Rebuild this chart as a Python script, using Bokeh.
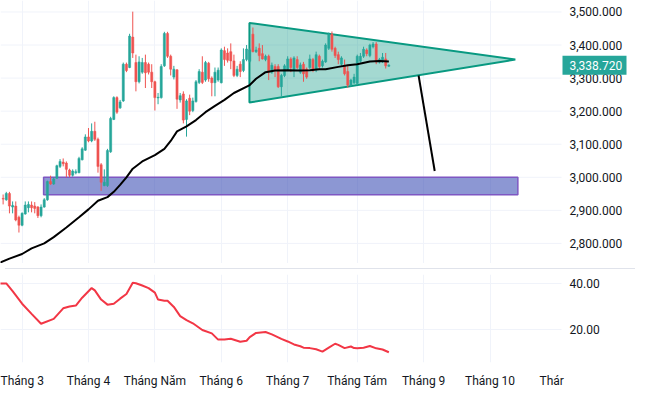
from bokeh.plotting import figure
from bokeh.models import (ColumnDataSource, FixedTicker, Grid, Range1d, Div)
from bokeh.core.properties import value
from bokeh.layouts import column
from bokeh.embed import file_html
from bokeh.resources import INLINE

# ---------------- data ----------------
opens = [2936, 2932, 2951, 2910, 2913, 2879, 2855, 2889, 2908, 2916,
         2913, 2910, 2884, 2910, 2932, 2987, 2980, 2997, 3033, 3046,
         3043, 3022, 3006, 3014, 3014, 3053, 3082, 3122, 3110, 3139,
         3115, 3038, 2975, 2975, 3077, 3175, 3241, 3210, 3231, 3342,
         3332, 3424, 3347, 3289, 3318, 3347, 3342, 3318, 3289, 3240,
         3241, 3337, 3435, 3366, 3303, 3325, 3234, 3252, 3175, 3239,
         3202, 3229, 3287, 3318, 3294, 3345, 3300, 3286, 3294, 3286,
         3383, 3376, 3380, 3352, 3308, 3342, 3323, 3356, 3351, 3433,
         3380, 3390, 3374, 3356, 3366, 3318, 3335, 3335, 3274, 3308,
         3327, 3358, 3327, 3356, 3318, 3342, 3327, 3332, 3356, 3326,
         3366, 3337, 3349, 3390, 3433, 3390, 3371, 3342, 3337, 3320,
         3279, 3286, 3284, 3351, 3366, 3385, 3368, 3395, 3403, 3349,
         3351, 3358, 3336]
highs = [2948, 2956, 2956, 2927, 2927, 2884, 2894, 2927, 2927, 2927,
         2925, 2913, 2918, 2937, 2990, 3005, 3000, 3038, 3055, 3057,
         3048, 3026, 3024, 3024, 3062, 3091, 3130, 3149, 3163, 3168,
         3120, 3043, 3024, 3086, 3183, 3245, 3245, 3234, 3347, 3347,
         3434, 3501, 3371, 3366, 3361, 3371, 3347, 3342, 3292, 3255,
         3342, 3440, 3440, 3371, 3337, 3327, 3255, 3260, 3236, 3250,
         3241, 3294, 3327, 3366, 3352, 3349, 3305, 3332, 3332, 3390,
         3395, 3390, 3405, 3371, 3337, 3351, 3390, 3400, 3390, 3453,
         3395, 3405, 3400, 3371, 3371, 3347, 3342, 3342, 3313, 3342,
         3366, 3363, 3366, 3366, 3347, 3349, 3332, 3371, 3361, 3380,
         3371, 3356, 3405, 3438, 3441, 3395, 3380, 3366, 3356, 3337,
         3298, 3313, 3371, 3376, 3395, 3390, 3404, 3409, 3409, 3361,
         3376, 3376, 3342]
lows = [2918, 2929, 2891, 2891, 2867, 2833, 2852, 2887, 2894, 2894,
        2891, 2877, 2879, 2908, 2929, 2977, 2977, 2995, 3028, 3033,
        3000, 3000, 3002, 3009, 3012, 3051, 3080, 3106, 3106, 3110,
        3014, 2959, 2973, 2971, 3074, 3173, 3192, 3207, 3228, 3318,
        3330, 3361, 3260, 3284, 3313, 3270, 3311, 3270, 3202, 3221,
        3238, 3334, 3361, 3308, 3296, 3207, 3226, 3163, 3123, 3188,
        3197, 3226, 3282, 3282, 3289, 3289, 3245, 3245, 3289, 3284,
        3337, 3347, 3327, 3303, 3303, 3303, 3318, 3351, 3347, 3378,
        3376, 3351, 3356, 3351, 3294, 3313, 3303, 3270, 3245, 3303,
        3322, 3318, 3303, 3327, 3313, 3289, 3298, 3327, 3318, 3318,
        3329, 3332, 3346, 3385, 3380, 3361, 3342, 3337, 3308, 3271,
        3274, 3282, 3279, 3347, 3361, 3366, 3363, 3390, 3342, 3344,
        3346, 3329, 3334]
closes = [2934, 2951, 2913, 2915, 2871, 2855, 2891, 2916, 2918, 2908,
          2906, 2884, 2910, 2932, 2987, 2980, 2995, 3035, 3048, 3041,
          3024, 3006, 3019, 3017, 3057, 3086, 3122, 3110, 3139, 3115,
          3033, 2985, 2985, 3081, 3178, 3241, 3197, 3228, 3342, 3323,
          3427, 3376, 3289, 3349, 3347, 3316, 3318, 3289, 3241, 3242,
          3335, 3435, 3366, 3327, 3327, 3236, 3247, 3173, 3231, 3200,
          3231, 3289, 3320, 3287, 3347, 3298, 3286, 3318, 3324, 3385,
          3356, 3354, 3352, 3308, 3327, 3320, 3356, 3388, 3385, 3380,
          3385, 3368, 3358, 3366, 3318, 3339, 3325, 3274, 3308, 3337,
          3358, 3332, 3361, 3332, 3340, 3313, 3303, 3358, 3323, 3371,
          3335, 3351, 3400, 3433, 3387, 3368, 3356, 3361, 3313, 3279,
          3294, 3303, 3366, 3366, 3387, 3374, 3400, 3403, 3349, 3356,
          3363, 3337, 3338.72]

# moving average (black line), bar index -> value
ma_x = [-1, 2, 6, 9, 13, 16, 20, 24, 27, 30, 33, 35, 37, 39, 41, 44, 48, 51, 53, 55,
        58, 61, 64, 67, 70, 73, 78, 80, 83, 86, 90, 94, 97, 100, 102, 106, 109, 112,
        116, 119, 122]
ma_v = [2742, 2754, 2768, 2785, 2800, 2819, 2848, 2879, 2903, 2929, 2940, 2956, 2977,
        3000, 3026, 3048, 3067, 3086, 3110, 3139, 3154, 3173, 3197, 3216, 3234, 3255,
        3279, 3298, 3318, 3323, 3324, 3323, 3324, 3327, 3327, 3334, 3339, 3342, 3350,
        3352, 3350]

# lower pane indicator (red line)
ind_x = [-1, 1, 3, 6, 9, 12, 16, 19, 21, 23, 25, 28, 29, 31, 33, 35, 37, 39, 41, 42,
         44, 46, 48, 49, 51, 52, 54, 56, 58, 60, 63, 66, 68, 70, 72, 75, 77, 78, 80, 83,
         85, 87, 88, 90, 92, 94, 95, 97, 99, 101, 103, 105, 106, 108, 110, 111, 112,
         114, 116, 118, 120, 122]
ind_v = [40.0, 40.0, 36.7, 31.2, 26.8, 22.5, 24.6, 29.2, 30.0, 30.4, 33.8, 38.0, 37.0,
         33.0, 30.8, 31.2, 33.4, 35.4, 40.3, 40.1, 39.1, 38.0, 36.0, 33.0, 32.5, 32.5,
         29.8, 25.8, 24.1, 22.7, 19.8, 18.3, 15.6, 15.6, 16.0, 14.7, 15.1, 16.7, 18.5,
         18.9, 17.9, 16.6, 15.9, 14.8, 13.5, 12.7, 12.1, 11.9, 11.4, 10.4, 12.1, 13.8,
         13.3, 11.9, 12.6, 11.9, 11.8, 12.1, 12.8, 11.8, 11.3, 10.1]

# drawings
tri_x = [77.9, 77.9, 162.0]
tri_y = [3467, 3226, 3356]
zone_x = [12.8, 162.8]
zone_y = [2947, 3000]
arrow_x = [131.4, 136.5]
arrow_y = [3308, 3019]

# axes
month_idx = [6, 27, 48, 69, 90, 112, 133, 154, 173.5]
month_labels = ["Tháng 3", "Tháng 4", "Tháng Năm", "Tháng 6", "Tháng 7",
                "Tháng Tám", "Tháng 9", "Tháng 10", "Thár"]
price_ticks = [2800, 2900, 3000, 3100, 3200, 3300, 3400, 3500]
ind_ticks = [20, 40]
last_price = 3338.72

# ---------------- styling ----------------
FONT = "Roboto"
TXT = "#131722"
GRID = "#f0f3fa"
UP = "#26a69a"
DN = "#ef5350"
W = 630
AXW = 69                                # width of the price scale strip
FRAME_W = W - AXW                       # width of the chart area proper
XR = (-0.83, 176.6)                     # bar-index range of the chart area
PX = (XR[1] - XR[0]) / FRAME_W          # data units per pixel along x
X_END = XR[0] + W * PX                  # frame also covers the price scale


def xpx(px):
    return XR[0] + px * PX


def make_fig(height, yr, bottom):
    f = figure(width=W, height=height, x_range=Range1d(XR[0], X_END),
               y_range=Range1d(*yr), output_backend="svg", toolbar_location=None,
               x_axis_location="below" if bottom else None, y_axis_location=None,
               min_border_left=0, min_border_top=0, min_border_right=0,
               min_border_bottom=bottom)
    f.outline_line_color = None
    f.background_fill_color = "white"
    f.border_fill_color = "white"
    f.grid.visible = False
    f.add_layout(Grid(dimension=0, ticker=FixedTicker(ticks=month_idx[:-1]),
                      grid_line_color=GRID), "center")
    return f


def scale_labels(f, ticks, texts):
    f.segment(x0=[XR[0]] * len(ticks), x1=[XR[1]] * len(ticks),
              y0=ticks, y1=ticks, line_color=GRID, line_width=1, level="underlay")
    f.text(x=[xpx(FRAME_W + 8)] * len(ticks), y=ticks, text=texts,
           text_font=value(FONT), text_font_size="12px", text_color=TXT,
           text_baseline="middle", text_align="left")


n = len(closes)
src = ColumnDataSource(dict(
    x=list(range(n)),
    h=highs, l=lows,
    top=[max(o, c) for o, c in zip(opens, closes)],
    bot=[min(o, c) for o, c in zip(opens, closes)],
    color=[UP if c >= o else DN for o, c in zip(opens, closes)],
))

# ---------------- main pane ----------------
main = make_fig(263, (2739.3, 3534.7), 0)
scale_labels(main, price_ticks, [f"{v:,.3f}" for v in price_ticks])

main.quad(left=[zone_x[0]], right=[zone_x[1]], bottom=[zone_y[0]], top=[zone_y[1]],
          fill_color="#3f51b5", fill_alpha=0.6, line_color="#7e57c2", line_width=1.5)
main.patch(tri_x, tri_y, fill_color="#089981", fill_alpha=0.37,
           line_color="#089981", line_width=2)

main.segment(x0="x", y0="l", x1="x", y1="h", color="color", line_width=1, source=src)
main.vbar(x="x", width=0.68, top="top", bottom="bot", fill_color="color",
          line_color="color", line_width=0.5, source=src)

main.line(ma_x, ma_v, line_color="black", line_width=2)
main.line(arrow_x, arrow_y, line_color="black", line_width=2)

# last price marker on the price scale
main.rect(x=[xpx(FRAME_W + 1 + 32)], y=[last_price], width=64, height=19,
          width_units="screen", height_units="screen",
          fill_color="#26a69a", line_color=None)
main.text(x=[xpx(FRAME_W + 8)], y=[last_price], text=[f"{last_price:,.3f}"],
          text_font=value(FONT), text_font_size="12px", text_color="white",
          text_baseline="middle", text_align="left")

sep = Div(text="", width=W, height=1, styles={"background-color": "#e0e3eb"})

# ---------------- lower pane ----------------
low = make_fig(116, (5.65, 43.9), 23)
scale_labels(low, ind_ticks, [f"{v:.2f}" for v in ind_ticks])
low.xaxis.ticker = FixedTicker(ticks=month_idx)
low.xaxis.major_label_overrides = {m: lab for m, lab in zip(month_idx, month_labels)}
ax = low.xaxis[0]
ax.axis_line_color = None
ax.major_tick_line_color = None
ax.minor_tick_line_color = None
ax.major_label_text_font = FONT
ax.major_label_text_font_size = "12px"
ax.major_label_text_color = TXT
ax.major_label_standoff = 5

low.line(ind_x, ind_v, line_color="#f23645", line_width=2)

layout = column(main, sep, low, spacing=0)
open("out.html", "w").write(file_html(layout, INLINE))
